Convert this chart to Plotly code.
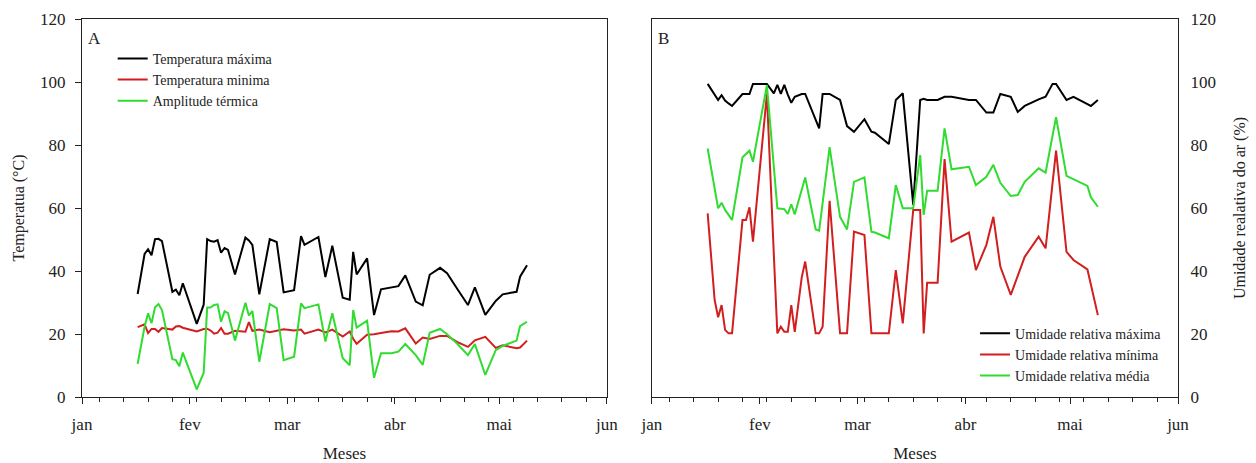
import pandas as pd
import plotly.graph_objects as go

# ---------------- Painel A: temperatura ----------------
dias_temp = [16, 18, 19, 20, 21, 22, 23, 26, 27, 28, 29, 33, 35, 36, 37, 38, 39, 40, 41, 42,
             44, 47, 48, 49, 51, 54, 56, 58, 61, 63, 64, 68, 70, 72, 75, 77, 78, 79, 82, 84,
             86, 89, 91, 93, 96, 98, 100, 103, 105, 108, 111, 113, 116, 119, 121, 125, 126, 128]

temp_max = [32.7, 45.4, 46.9, 45.0, 50.1, 50.2, 49.5, 33.4, 34.1, 32.3, 36.1, 23.2, 29.3, 50.1,
            49.5, 49.3, 49.8, 45.8, 47.3, 46.7, 38.9, 50.6, 49.7, 48.3, 32.6, 50.1, 49.2, 33.2,
            33.9, 51.1, 48.3, 50.8, 38.1, 48.0, 31.5, 30.9, 46.1, 38.9, 44.0, 26.0, 34.2, 34.8,
            35.2, 38.6, 30.3, 29.1, 38.8, 41.0, 39.3, 34.2, 29.2, 34.8, 26.1, 30.5, 32.6, 33.4,
            38.2, 41.8]

temp_min = [22.2, 23.1, 20.3, 21.6, 21.6, 20.7, 21.9, 21.4, 22.4, 22.5, 22.0, 20.8, 21.6, 21.7,
            21.1, 20.1, 20.4, 21.9, 20.1, 20.1, 21.0, 20.7, 23.8, 21.0, 21.4, 20.6, 21.0, 21.5,
            21.1, 21.4, 20.1, 21.4, 20.5, 21.4, 19.2, 20.8, 18.5, 16.9, 19.8, 19.9, 20.3, 20.9,
            20.8, 21.8, 17.0, 18.9, 18.4, 19.4, 19.4, 17.4, 15.9, 18.0, 19.1, 15.6, 16.4, 15.5,
            15.7, 17.9]

amplitude = [10.5, 22.3, 26.6, 23.4, 28.5, 29.5, 27.6, 12.0, 11.7, 9.8, 14.1, 2.4, 7.7, 28.4,
             28.4, 29.2, 29.4, 23.9, 27.2, 26.6, 17.9, 29.9, 25.9, 27.3, 11.2, 29.5, 28.2, 11.7,
             12.8, 29.7, 28.2, 29.4, 17.6, 26.6, 12.3, 10.1, 27.6, 22.0, 24.2, 6.1, 13.9, 13.9,
             14.4, 16.8, 13.3, 10.2, 20.4, 21.6, 19.9, 16.8, 13.3, 16.8, 7.0, 14.9, 16.2, 17.9,
             22.5, 23.9]

# ---------------- Painel B: umidade relativa ----------------
dias_ur = [16, 18, 19, 20, 21, 22, 23, 26, 27, 28, 29, 33, 35, 36, 37, 38, 39, 40, 41, 43,
           44, 47, 48, 49, 51, 54, 56, 58, 61, 63, 64, 68, 70, 72, 75, 77, 78, 79, 82, 84,
           86, 91, 93, 96, 98, 100, 103, 105, 107, 111, 113, 115, 116, 119, 121, 125, 126, 128]

ur_max = [99.4, 96.0, 94.3, 95.8, 94.1, 93.2, 92.4, 96.2, 96.2, 96.2, 99.4, 99.4, 96.4, 99.1,
          96.2, 99.1, 96.0, 93.4, 95.3, 96.2, 96.2, 88.0, 85.3, 96.2, 96.2, 94.3, 86.0, 84.2,
          88.2, 84.2, 83.9, 80.3, 94.3, 96.4, 61.0, 94.3, 94.7, 94.3, 94.3, 95.3, 95.3, 94.3,
          94.3, 90.3, 90.3, 96.2, 95.3, 90.5, 92.4, 94.5, 95.3, 99.4, 99.4, 94.3, 95.3, 93.0,
          92.4, 94.3]

ur_min = [58.3, 30.8, 25.3, 29.2, 21.3, 20.2, 20.2, 56.2, 56.2, 60.2, 49.3, 96.2, 45.0, 20.2,
          22.3, 20.7, 20.7, 29.2, 20.7, 38.0, 43.0, 20.2, 20.2, 22.3, 62.3, 20.2, 20.2, 52.5,
          51.4, 20.2, 20.2, 20.2, 40.3, 23.4, 59.4, 59.4, 20.2, 36.3, 36.3, 75.5, 49.3, 52.2,
          40.3, 48.3, 57.2, 41.4, 32.4, 38.5, 44.5, 50.9, 47.2, 68.0, 78.2, 46.1, 43.5, 40.5,
          35.7, 26.0]

ur_media = [78.9, 66.0, 59.9, 61.7, 59.4, 57.8, 56.2, 76.1, 77.0, 78.2, 74.7, 99.0, 73.0, 59.9,
            59.8, 59.6, 58.1, 61.2, 58.0, 66.0, 69.7, 53.2, 52.8, 61.6, 79.3, 57.2, 53.2, 68.3,
            69.7, 52.5, 52.2, 50.4, 67.3, 59.9, 59.9, 76.8, 57.8, 65.5, 65.5, 85.3, 72.3, 73.1,
            67.3, 69.9, 73.7, 68.0, 63.8, 64.1, 68.3, 72.6, 71.2, 83.0, 88.8, 70.2, 69.1, 67.0,
            63.4, 60.4]

meses_vals = ["2023-01-01", "2023-02-01", "2023-03-01", "2023-04-01", "2023-05-01", "2023-06-01"]
meses_txt = ["jan", "fev", "mar", "abr", "mai", "jun"]

inicio = pd.Timestamp("2023-01-01")
datas_temp = inicio + pd.to_timedelta(dias_temp, unit="D")
datas_ur = inicio + pd.to_timedelta(dias_ur, unit="D")

PRETO = "#000000"
VERMELHO = "#d11f1f"
VERDE = "#2fdc2f"
TEXTO = "#222222"
FONTE = "Liberation Serif"
LW = 2

fig = go.Figure()

fig.add_trace(go.Scatter(x=datas_temp, y=temp_max, mode="lines", name="Temperatura máxima",
                         line=dict(color=PRETO, width=LW), xaxis="x", yaxis="y", legend="legend"))
fig.add_trace(go.Scatter(x=datas_temp, y=temp_min, mode="lines", name="Temperatura minima",
                         line=dict(color=VERMELHO, width=LW), xaxis="x", yaxis="y", legend="legend"))
fig.add_trace(go.Scatter(x=datas_temp, y=amplitude, mode="lines", name="Amplitude térmica",
                         line=dict(color=VERDE, width=LW), xaxis="x", yaxis="y", legend="legend"))

fig.add_trace(go.Scatter(x=datas_ur, y=ur_max, mode="lines", name="Umidade relativa máxima",
                         line=dict(color=PRETO, width=LW), xaxis="x2", yaxis="y2",
                         legend="legend2"))
fig.add_trace(go.Scatter(x=datas_ur, y=ur_min, mode="lines", name="Umidade relativa mínima",
                         line=dict(color=VERMELHO, width=LW), xaxis="x2", yaxis="y2",
                         legend="legend2"))
fig.add_trace(go.Scatter(x=datas_ur, y=ur_media, mode="lines", name="Umidade relativa média",
                         line=dict(color=VERDE, width=LW), xaxis="x2", yaxis="y2",
                         legend="legend2"))

eixo_x = dict(
    type="date",
    range=["2023-01-01", "2023-06-01"],
    tickmode="array", tickvals=meses_vals, ticktext=meses_txt,
    ticks="outside", ticklen=6, tickcolor=TEXTO, tickwidth=1,
    minor=dict(ticks="outside", ticklen=4, tickcolor=TEXTO, tickwidth=1,
               dtick=7 * 86400000, tick0="2023-01-06", showgrid=False),
    showline=True, linecolor=TEXTO, linewidth=1, mirror=True,
    showgrid=False, zeroline=False, automargin=False,
    tickfont=dict(family=FONTE, size=17, color=TEXTO),
    ticklabelstandoff=6,
    title=dict(text="Meses", font=dict(family=FONTE, size=17, color=TEXTO), standoff=25),
)

eixo_y = dict(
    range=[0, 120], dtick=20, tick0=0,
    showline=True, linecolor=TEXTO, linewidth=1, mirror=True,
    showgrid=False, zeroline=False, automargin=False,
    tickfont=dict(family=FONTE, size=17, color=TEXTO),
)

fig.update_layout(
    width=1256, height=463,
    margin=dict(l=82, r=78, t=19, b=66),
    paper_bgcolor="white", plot_bgcolor="white",
    font=dict(family=FONTE, size=15, color=TEXTO),
    xaxis=dict(eixo_x, domain=[0, 0.479], anchor="y"),
    xaxis2=dict(eixo_x, domain=[0.520, 1], anchor="y2"),
    yaxis=dict(eixo_y, anchor="x",
               ticks="outside", ticklen=6, tickcolor=TEXTO, tickwidth=1,
               ticklabelstandoff=6,
               title=dict(text="Temperatua (°C)", font=dict(family=FONTE, size=16, color=TEXTO),
                          standoff=11)),
    yaxis2=dict(eixo_y, anchor="x2", side="right", ticks="",
                ticklabelstandoff=8,
                title=dict(text="Umidade realativa do ar (%)",
                           font=dict(family=FONTE, size=16, color=TEXTO), standoff=18)),
    legend=dict(x=0.028, y=0.937, xanchor="left", yanchor="top",
                bgcolor="rgba(0,0,0,0)", borderwidth=0,
                font=dict(family=FONTE, size=14, color=TEXTO)),
    legend2=dict(x=0.99, y=0.21, xanchor="right", yanchor="top",
                 bgcolor="rgba(0,0,0,0)", borderwidth=0,
                 font=dict(family=FONTE, size=14, color=TEXTO)),
    annotations=[
        dict(text="A", x=0.004, y=0.979, xref="paper", yref="paper", xanchor="left",
             yanchor="top", showarrow=False, font=dict(family=FONTE, size=17, color=TEXTO)),
        dict(text="B", x=0.524, y=0.979, xref="paper", yref="paper", xanchor="left",
             yanchor="top", showarrow=False, font=dict(family=FONTE, size=17, color=TEXTO)),
    ],
)

fig.write_html("out.html")
